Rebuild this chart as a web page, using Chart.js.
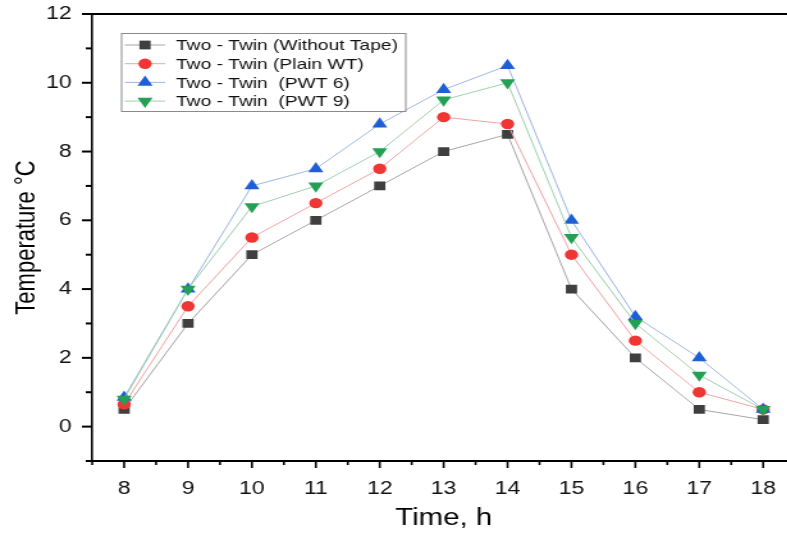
<!DOCTYPE html>
<html>
<head>
<meta charset="utf-8">
<script src="https://cdn.jsdelivr.net/npm/chart.js@4.4.0/dist/chart.umd.min.js"></script>
<style>
  html, body { margin: 0; padding: 0; background: #fff; overflow: hidden; }
  #wrap { width: 787px; height: 533px; overflow: hidden; }
  /* the source figure is stretched sideways, so draw narrow and widen */
  #chart { transform: scaleX(1.28); transform-origin: 0 0; }
</style>
</head>
<body>
<div id="wrap"><canvas id="chart" width="628" height="533"></canvas></div>
<script>
// Hours of the day (x values)
const hours = [8, 9, 10, 11, 12, 13, 14, 15, 16, 17, 18];

// Temperature rise per configuration
const withoutTape = [0.5, 3.0, 5.0, 6.0, 7.0, 8.0, 8.5, 4.0, 2.0, 0.5, 0.2];
const plainWT     = [0.65, 3.5, 5.5, 6.5, 7.5, 9.0, 8.8, 5.0, 2.5, 1.0, 0.5];
const pwt6        = [0.85, 4.0, 7.0, 7.5, 8.8, 9.8, 10.5, 6.0, 3.2, 2.0, 0.5];
const pwt9        = [0.8, 4.0, 6.4, 7.0, 8.0, 9.5, 10.0, 5.5, 3.0, 1.5, 0.5];

const seriesLabels = [
    'Two - Twin (Without Tape)',
    'Two - Twin (Plain WT)',
    'Two - Twin  (PWT 6)',
    'Two - Twin  (PWT 9)'
];

const FONT = '"Liberation Sans", Arial, sans-serif';

function toPoints(values) {
    return hours.map((h, i) => ({ x: h, y: values[i] }));
}

function makeSet(label, values, marker, line, style, radius, rotation, order) {
    return {
        label: label,
        data: toPoints(values),
        borderColor: line,
        borderWidth: 1,
        backgroundColor: marker,
        pointBackgroundColor: marker,
        pointBorderColor: marker,
        pointBorderWidth: 0,
        pointStyle: style,
        pointRadius: radius,
        pointRotation: rotation,
        tension: 0,
        order: order
    };
}

const datasets = [
    makeSet(seriesLabels[0], withoutTape, '#3f3f3f', '#a6a6a6', 'rect', 6.2, 0, 3),
    makeSet(seriesLabels[1], plainWT, '#f03535', '#f2a3a3', 'circle', 5.2, 0, 2),
    makeSet(seriesLabels[2], pwt6, '#1f5fd6', '#9db6e2', 'triangle', 6.8, 0, 1),
    makeSet(seriesLabels[3], pwt9, '#23a055', '#9ed1ab', 'triangle', 6.8, 180, 0)
];

// Small marker painter for the legend box
function paintMarker(ctx, ds, x, y) {
    ctx.save();
    ctx.fillStyle = ds.pointBackgroundColor;
    ctx.beginPath();
    const r = ds.pointRadius;
    if (ds.pointStyle === 'rect') {
        const s = Math.SQRT1_2 * r;
        ctx.rect(x - s, y - s, 2 * s, 2 * s);
    } else if (ds.pointStyle === 'circle') {
        ctx.arc(x, y, r, 0, Math.PI * 2);
    } else {
        const dir = ds.pointRotation === 180 ? -1 : 1;
        const w = r * Math.sqrt(3) / 2;
        ctx.moveTo(x, y - dir * r);
        ctx.lineTo(x + w, y + dir * r / 2);
        ctx.lineTo(x - w, y + dir * r / 2);
        ctx.closePath();
    }
    ctx.fill();
    ctx.restore();
}

// Frame, tick marks and boxed legend
const framePlugin = {
    id: 'frame',
    afterDraw(chart) {
        const ctx = chart.ctx;
        const area = chart.chartArea;
        const xs = chart.scales.x;
        const ys = chart.scales.y;
        ctx.save();
        ctx.strokeStyle = '#000';
        ctx.lineWidth = 2;

        // top border
        ctx.beginPath();
        ctx.moveTo(area.left, area.top);
        ctx.lineTo(area.right, area.top);
        ctx.stroke();

        // x ticks: majors on whole hours, minors on half hours
        ctx.lineWidth = 1.6;
        xs.ticks.forEach(t => {
            const px = xs.getPixelForValue(t.value);
            const len = Number.isInteger(t.value) ? 7 : 4;
            ctx.beginPath();
            ctx.moveTo(px, area.bottom);
            ctx.lineTo(px, area.bottom + len);
            ctx.stroke();
        });

        // y ticks: majors on even values
        ctx.lineWidth = 2;
        ys.ticks.forEach(t => {
            const py = ys.getPixelForValue(t.value);
            const len = t.value % 2 === 0 ? 8 : 5;
            ctx.beginPath();
            ctx.moveTo(area.left, py);
            ctx.lineTo(area.left - len, py);
            ctx.stroke();
        });

        // legend box
        const bx = 94.5, by = 33, bw = 222, bh = 78;
        ctx.fillStyle = '#fff';
        ctx.fillRect(bx, by, bw, bh);
        ctx.strokeStyle = '#8a8a8a';
        ctx.lineWidth = 1;
        ctx.strokeRect(bx + 0.5, by + 0.5, bw, bh);

        ctx.font = '15px ' + FONT;
        ctx.textBaseline = 'middle';
        ctx.textAlign = 'left';
        chart.data.datasets.forEach((ds, i) => {
            const cy = 45 + i * 18.7;
            ctx.strokeStyle = ds.borderColor;
            ctx.lineWidth = 1;
            ctx.beginPath();
            ctx.moveTo(97.5, cy);
            ctx.lineTo(129, cy);
            ctx.stroke();
            paintMarker(ctx, ds, 113.3, cy);
            ctx.fillStyle = '#111';
            ctx.fillText(ds.label, 137.5, cy + 1);
        });
        ctx.restore();
    }
};

new Chart(document.getElementById('chart'), {
    type: 'line',
    data: { datasets: datasets },
    options: {
        responsive: false,
        animation: false,
        layout: { padding: { left: 0, right: 0, top: 14, bottom: 0 } },
        plugins: {
            legend: { display: false },
            tooltip: { enabled: false }
        },
        scales: {
            x: {
                type: 'linear',
                min: 7.5,
                max: 18.5,
                afterFit: (scale) => {
                    scale.height = 72;
                    scale.paddingLeft = 0;
                    scale.paddingRight = 0;
                },
                border: { display: true, color: '#000', width: 2 },
                grid: { display: true, drawOnChartArea: false, drawTicks: true, tickLength: 7, tickColor: 'rgba(0,0,0,0)' },
                ticks: {
                    stepSize: 0.5,
                    autoSkip: false,
                    maxRotation: 0,
                    padding: 10,
                    color: '#111',
                    font: { family: FONT, size: 18 },
                    callback: (v) => Number.isInteger(v) ? String(v) : ''
                },
                title: {
                    display: true,
                    text: 'Time, h',
                    color: '#000',
                    font: { family: FONT, size: 23 },
                    padding: { top: 0, bottom: 1 }
                }
            },
            y: {
                min: -1,
                max: 12,
                afterFit: (scale) => {
                    scale.width = 72;
                    scale.paddingTop = 0;
                    scale.paddingBottom = 0;
                },
                border: { display: true, color: '#000', width: 1.6 },
                grid: { display: true, drawOnChartArea: false, drawTicks: true, tickLength: 8, tickColor: 'rgba(0,0,0,0)' },
                ticks: {
                    stepSize: 1,
                    padding: 8,
                    color: '#111',
                    font: { family: FONT, size: 18 },
                    callback: (v) => (v >= 0 && v % 2 === 0) ? String(v) : ''
                },
                title: {
                    display: true,
                    text: 'Temperature °C',
                    color: '#000',
                    font: { family: FONT, size: 22 },
                    padding: { top: 8, bottom: 0 }
                }
            }
        }
    },
    plugins: [framePlugin]
});
</script>
</body>
</html>
